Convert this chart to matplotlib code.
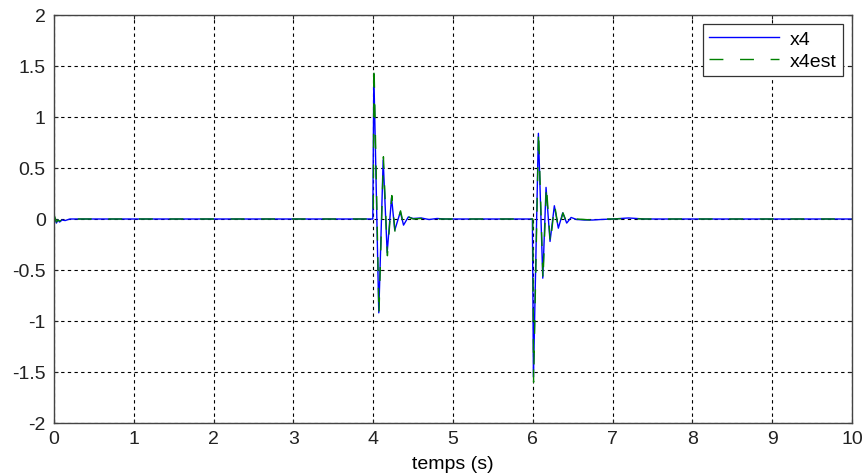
import numpy as np
import matplotlib
matplotlib.use("Agg")
import matplotlib.pyplot as plt

# ============================================================
# DATA
# ============================================================
t_x4 = [0.0, 0.01, 0.03, 0.05, 0.07, 0.10, 0.14, 0.2, 0.5, 3.995,
        4.008, 4.03, 4.07, 4.125, 4.175, 4.23, 4.27, 4.34, 4.38, 4.44,
        4.5, 4.6, 4.7, 4.8, 4.9, 5.0, 5.5, 5.995,
        6.008, 6.07, 6.125, 6.166, 6.216, 6.27, 6.32, 6.375, 6.425, 6.48,
        6.55, 6.65, 6.75, 6.85, 7.0, 7.2, 7.4, 8.0, 10.0]
x4 = [0.03, 0.01, -0.04, -0.01, -0.03, -0.01, -0.015, 0.0, 0.0, 0.0,
      1.42, 0.60, -0.92, 0.58, -0.33, 0.21, -0.11, 0.07, -0.06, 0.02,
      0.005, 0.01, -0.005, 0.005, 0.0, 0.0, 0.0, 0.0,
      -1.55, 0.84, -0.58, 0.31, -0.22, 0.13, -0.09, 0.06, -0.04, 0.015,
      -0.005, -0.01, -0.01, -0.005, 0.0, 0.01, 0.0, 0.0, 0.0]

t_x4est = [0.0, 0.01, 0.03, 0.05, 0.07, 0.10, 0.14, 0.2, 0.5, 4.0,
           4.01, 4.035, 4.072, 4.128, 4.178, 4.233, 4.273, 4.343, 4.383,
           4.443, 4.5, 4.6, 4.7, 4.8, 4.9, 5.0, 5.5, 6.0,
           6.01, 6.072, 6.128, 6.17, 6.22, 6.273, 6.323, 6.378, 6.428, 6.483,
           6.55, 6.65, 6.75, 6.85, 7.0, 7.2, 7.4, 8.0, 10.0]
x4est = [0.04, 0.02, -0.03, -0.01, -0.02, -0.01, -0.01, 0.0, 0.0, 0.0,
         1.51, 0.55, -0.94, 0.61, -0.36, 0.23, -0.12, 0.08, -0.07, 0.02,
         0.0, 0.005, 0.0, 0.0, 0.0, 0.0, 0.0, 0.0,
         -1.60, 0.87, -0.60, 0.33, -0.24, 0.14, -0.10, 0.06, -0.04, 0.015,
         0.0, -0.005, -0.01, 0.0, 0.0, 0.005, 0.0, 0.0, 0.0]

x_ticks = np.arange(0, 11, 1)
y_ticks = [-2, -1.5, -1, -0.5, 0, 0.5, 1, 1.5, 2]
y_labels = ["-2", "-1.5", "-1", "-0.5", "0", "0.5", "1", "1.5", "2"]

# ============================================================
# PLOT
# ============================================================
plt.rcParams["font.family"] = ["Liberation Sans", "DejaVu Sans"]
FS = 14

fig = plt.figure(figsize=(8.66, 4.77), dpi=100)
ax = fig.add_axes([54 / 866, 1 - 424 / 477, (852 - 54) / 866, (424 - 16) / 477])

ax.plot(t_x4, x4, color="#0000ff", lw=1.0, label="x4")
ax.plot(t_x4est, x4est, color="#008000", lw=1.0, dashes=(10, 12), label="x4est")

ax.set_xlim(0, 10)
ax.set_ylim(-2, 2)
ax.set_xticks(x_ticks)
ax.set_yticks(y_ticks)
ax.set_yticklabels(y_labels)
ax.tick_params(direction="in", length=3, labelsize=FS, colors="#222222",
               top=True, right=True)
ax.tick_params(axis="y", pad=6)
ax.tick_params(axis="x", pad=5)
ax.grid(True, color="black", linestyle=(0, (3, 3)), linewidth=0.8)
for sp in ax.spines.values():
    sp.set_color("#444444")
    sp.set_linewidth(1.0)

ax.set_xlabel("temps (s)", fontsize=FS, labelpad=6)

leg = ax.legend(loc="upper right", fontsize=FS, borderaxespad=0.46,
                handlelength=3.6, handletextpad=0.55, fancybox=False,
                framealpha=1, edgecolor="#333333", borderpad=0.32,
                labelspacing=0.23)
leg.get_frame().set_linewidth(0.9)

fig.savefig("out.png", dpi=100)
